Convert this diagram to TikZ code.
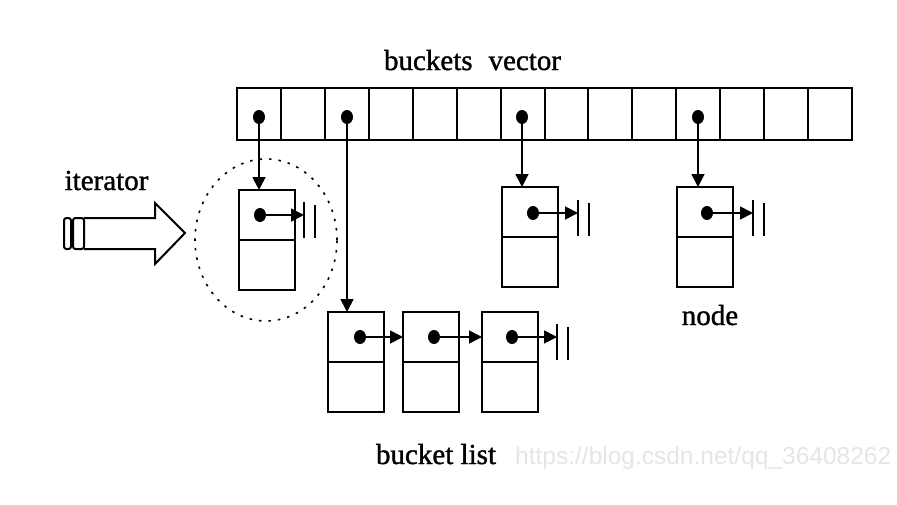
\documentclass[tikz,border=0pt]{standalone}
\usepackage{fontspec}
\setmainfont{Liberation Serif}
\newfontfamily\lblfont{Liberation Serif}[FakeBold=1.2]
\newfontfamily\wmfont{Liberation Sans}
\usetikzlibrary{arrows.meta,shapes.geometric}
\tikzset{
  cell/.style={draw, line width=2pt, minimum width=43.93pt, minimum height=52pt, inner sep=0pt, outer sep=0pt},
  half/.style={draw, line width=2pt, minimum width=56pt, minimum height=50pt, inner sep=0pt, outer sep=0pt},
  dotn/.style={ellipse, fill=black, inner sep=0pt, minimum width=12pt, minimum height=14pt},
  ptr/.style={line width=1.8pt, -{Triangle[length=13pt,width=13pt]}},
  nullbar/.style={line width=2.2pt},
  lbl/.style={font=\lblfont\fontsize{29}{34}\selectfont, anchor=base, inner sep=0pt},
  outline/.style={line width=2pt},
}
\begin{document}
\begin{tikzpicture}[x=1pt,y=-1pt]
\useasboundingbox (0,0) rectangle (897,504);

% buckets vector
\foreach \i in {0,...,13}{
  \node[cell] (v\i) at ({237+43.93*(\i+0.5)},114) {};
}
\node[dotn] (d0) at (259,117) {};
\node[dotn] (d2) at (347,117) {};
\node[dotn] (d6) at (522,117) {};
\node[dotn] (d10) at (698,117) {};

% node A (iterator points here)
\node[half] (At) at (267,215) {};
\node[half] (Ab) at (267,265) {};
\node[dotn] (eA) at (260,215) {};
% node B
\node[half] (Bt) at (530,212) {};
\node[half] (Bb) at (530,262) {};
\node[dotn] (eB) at (533,213) {};
% node C
\node[half] (Ct) at (705,212) {};
\node[half] (Cb) at (705,262) {};
\node[dotn] (eC) at (707,213) {};
% bucket list
\node[half] (L1t) at (356,337) {};
\node[half] (L1b) at (356,387) {};
\node[dotn] (e1) at (360,337) {};
\node[half] (L2t) at (431,337) {};
\node[half] (L2b) at (431,387) {};
\node[dotn] (e2) at (434,337) {};
\node[half] (L3t) at (510,337) {};
\node[half] (L3b) at (510,387) {};
\node[dotn] (e3) at (512,337) {};

% vector pointers
\draw[ptr] (d0.center) -- (d0 |- At.north);
\draw[ptr] (d2.center) -- (d2 |- L1t.north);
\draw[ptr] (d6.center) -- (d6 |- Bt.north);
\draw[ptr] (d10.center) -- (d10 |- Ct.north);

% list pointers
\draw[ptr] (e1.center) -- (L2t.west |- e1);
\draw[ptr] (e2.center) -- (L3t.west |- e2);

% null terminators
\coordinate (nA) at (304,215);
\coordinate (nB) at (578,213);
\coordinate (nC) at (753,213);
\coordinate (n3) at (557,337);
\foreach \n in {nA,nB,nC,n3}{
  \draw[nullbar] ([yshift=13pt]\n) -- ([yshift=-23pt]\n);
  \draw[line width=1.6pt] ([xshift=11pt,yshift=10pt]\n) -- ([xshift=11pt,yshift=-23pt]\n);
}
\draw[ptr] (eA.center) -- (nA);
\draw[ptr] (eB.center) -- (nB);
\draw[ptr] (eC.center) -- (nC);
\draw[ptr] (e3.center) -- (n3);

% dotted ellipse around the iterator's node
\node[draw, ellipse, line width=1.6pt, dash pattern=on 2.5pt off 7pt, minimum width=142pt, minimum height=162pt] (ring) at (266,240) {};

% iterator arrow
\draw[outline, fill=white] (84,218) -- (155,218) -- (155,203) -- (185,233) -- (155,264) -- (155,249) -- (84,249);
\draw[outline, rounded corners=2.5pt] (64,218) rectangle (71,249);
\draw[outline, rounded corners=2.5pt] (73,218) rectangle (84,249);

% labels
\node[lbl] (bv) at (472.5,70) {buckets\hspace{0.55em}vector};
\node[lbl] (it) at (106.5,190) {iterator};
\node[lbl] (nd) at (710,325) {node};
\node[lbl] (bl) at (436,464) {bucket list};
\node[font=\wmfont\fontsize{24.5}{28}\selectfont, text=black!10, anchor=base west, inner sep=0pt] (wm) at (515,464) {https://blog.csdn.net/qq\_36408262};
\end{tikzpicture}
\end{document}
